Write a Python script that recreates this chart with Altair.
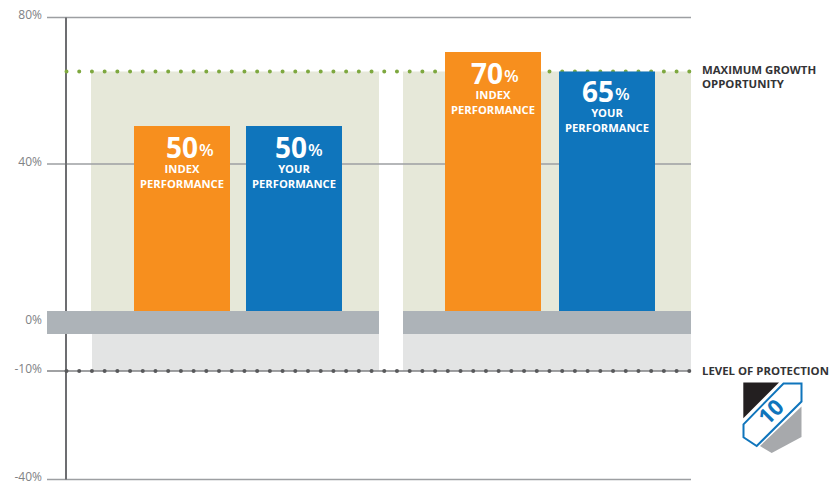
import altair as alt
import pandas as pd

# Chart values
slots = [0, 1, 2, 3]
series = ["INDEX", "YOUR", "INDEX", "YOUR"]
performance = [50, 50, 70, 65]
max_growth = 65
protection = -10
tick_values = [80, 40, 0, -10, -40]
tick_labels = ["80%", "40%", "0%", "-10%", "-40%"]
grid_values = [80, 40, -40]

ORANGE, BLUE = "#f78f1e", "#0f75bc"
FONT = "Open Sans"
PLOT_W, PLOT_H = 644, 463

# The value axis is broken around zero, so the scale is piecewise.
y_scale = alt.Scale(
    domain=[-40, -10, 0, 40, 50, 65, 70, 80],
    range=[462.5, 354, 305.5, 147, 109, 54.5, 35, 0.5],
    nice=False, zero=False,
)
x_scale = alt.Scale(domain=slots, range=[135, 247, 446, 560], nice=False, zero=False, padding=0)


def ypos(v, **kw):
    return alt.Y(datum=v, type="quantitative", scale=y_scale, axis=None, **kw)


def rect(left, right, top, bottom, color):
    return alt.Chart(pd.DataFrame({"a": [0]})).mark_rect(color=color).encode(
        x=alt.value(left), x2=alt.value(right),
        y=ypos(top), y2=alt.Y2(datum=bottom),
    )


def hline(v, color, width=1.0, left=0, right=PLOT_W, **mark):
    return alt.Chart(pd.DataFrame({"a": [0]})).mark_rule(
        color=color, strokeWidth=width, **mark
    ).encode(x=alt.value(left), x2=alt.value(right), y=ypos(v))


# Tick labels sit to the left of the plot; the lines are drawn as rules above the panels.
tick_layer = alt.Chart(pd.DataFrame({"v": tick_values, "t": tick_labels})).mark_text(
    font=FONT, fontSize=12, color="#808285", align="right", baseline="middle", dy=-2.5,
).encode(
    x=alt.value(-5),
    y=alt.Y("v:Q", scale=y_scale, axis=None),
    text="t:N",
)

panels = [
    rect(44, 332, max_growth, 0, "#e6e8d9"),
    rect(356, 644, max_growth, 0, "#e6e8d9"),
    rect(45, 332, 0, protection, "#e3e4e4"),
    rect(356, 644, 0, protection, "#e3e4e4"),
]

grid = [hline(v, "#9d9fa2", 1.5) for v in grid_values]
grid.append(hline(protection, "#808285", 1.5))

vertical = alt.Chart(pd.DataFrame({"a": [0]})).mark_rule(
    color="#6d6e71", strokeWidth=2
).encode(x=alt.value(19), y=ypos(-40), y2=alt.Y2(datum=80))

green_dots = hline(max_growth, "#7ea83f", 4, left=19.5,
                   strokeDash=[0.01, 12.7], strokeCap="round")
grey_dots = hline(protection, "#58595b", 4, left=19.5,
                  strokeDash=[0.01, 12.7], strokeCap="round")

bars_df = pd.DataFrame({"slot": slots, "series": series, "value": performance})
bars = alt.Chart(bars_df).mark_bar(size=96, orient="vertical").encode(
    x=alt.X("slot:Q", scale=x_scale, axis=None),
    y=alt.Y("value:Q", scale=y_scale, axis=None),
    y2=alt.Y2(datum=0),
    color=alt.Color("series:N", legend=None,
                    scale=alt.Scale(domain=["INDEX", "YOUR"], range=[ORANGE, BLUE])),
)

band = [
    hline(0, "#adb3b8", 23, left=0, right=332),
    hline(0, "#adb3b8", 23, left=356, right=644),
]


def bar_text(slot, value, text, size, dx, dy, align="center", weight="bold"):
    return alt.Chart(pd.DataFrame({"a": [0]})).mark_text(
        font=FONT, fontSize=size, fontWeight=weight, color="white",
        align=align, baseline="alphabetic", dx=dx, dy=dy,
    ).encode(
        x=alt.X(datum=slot, type="quantitative", scale=x_scale, axis=None),
        y=ypos(value), text=alt.value(text),
    )


# Horizontal offset of each big number, and vertical offset of each text block
number_dx = [16, 13, 10, 7]
block_dy = [0, 0, 0, -1.5]
labels = []
for s, name, val, ndx, bdy in zip(slots, series, performance, number_dx, block_dy):
    labels += [
        bar_text(s, val, str(val), 28, ndx, 32 + bdy, align="right"),
        bar_text(s, val, "%", 17, ndx + 1, 30 + bdy, align="left", weight=600),
        bar_text(s, val, name, 11.2, 0, 47 + bdy),
        bar_text(s, val, "PERFORMANCE", 11.2, 0, 62 + bdy),
    ]


def side_text(v, text, dy):
    return alt.Chart(pd.DataFrame({"a": [0]})).mark_text(
        font=FONT, fontSize=11.4, fontWeight="bold", color="#333335",
        align="left", baseline="alphabetic", dy=dy,
    ).encode(x=alt.value(655), y=ypos(v), text=alt.value(text))


side = [
    side_text(max_growth, "MAXIMUM GROWTH", 2),
    side_text(max_growth, "OPPORTUNITY", 16),
    side_text(protection, "LEVEL OF PROTECTION", 4),
]


# Shield badge next to the protection label, with outlines centred on its middle
def badge_part(path, fill, stroke=None):
    kw = {"stroke": stroke, "strokeWidth": 2} if stroke else {"strokeWidth": 0}
    return alt.Chart(pd.DataFrame({"a": [0]})).mark_point(
        shape=path, size=4, filled=True, fill=fill, opacity=1, **kw
    ).encode(x=alt.value(725.5), y=alt.value(400.5))


badge = [
    badge_part("M-29.2,-35 L6.5,-35 L-29.2,0.8 Z", "#231f20"),
    badge_part("M29,-11 L29,19.5 L-0.8,35.5 L-12.5,28.5 Z", "#a7a9ac"),
    badge_part("M11,-34 L29,-34 L29,-16 L-15.8,28.5 L-29,19.8 L-29,6.8 Z", "white", BLUE),
    alt.Chart(pd.DataFrame({"a": [0]})).mark_text(
        font=FONT, fontSize=22, fontWeight="bold", color=BLUE, angle=315,
        align="center", baseline="middle",
    ).encode(x=alt.value(724.5), y=alt.value(395.5), text=alt.value("10")),
]

chart = alt.layer(
    tick_layer, *panels, *grid, vertical, green_dots, grey_dots, bars, *band,
    *labels, *side, *badge,
).properties(
    width=PLOT_W, height=PLOT_H,
    autosize=alt.AutoSizeParams(type="none"),
    padding={"left": 47, "top": 17, "right": 138, "bottom": 2},
    background="white",
).configure_view(stroke=None)

chart.save("out.html", embed_options={"renderer": "svg", "actions": False})
